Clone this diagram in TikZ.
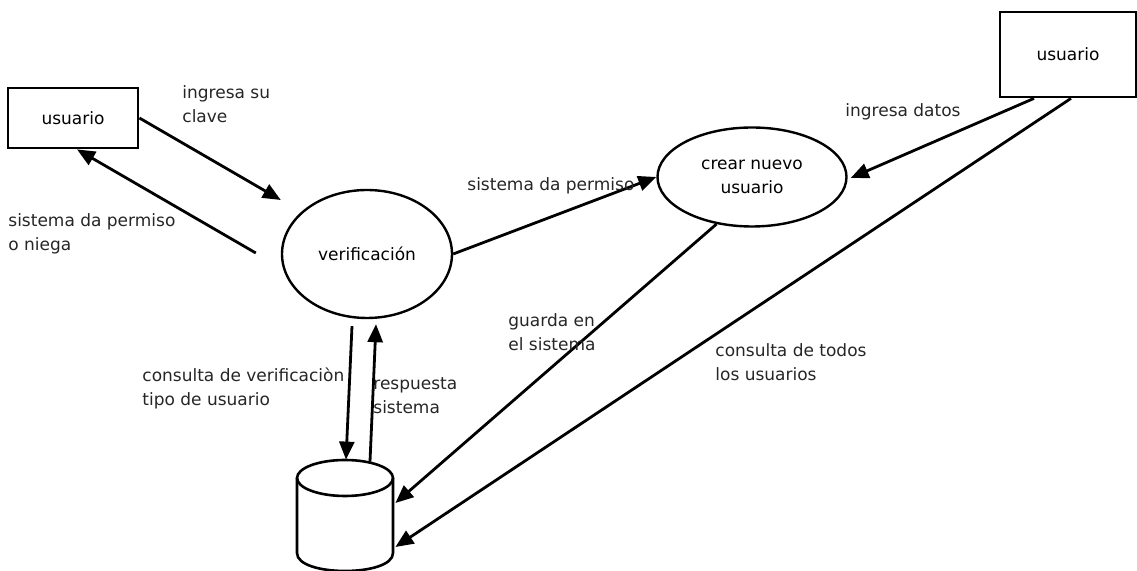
\documentclass[tikz,border=0pt]{standalone}
\usepackage{fontspec}
\setmainfont{DejaVu Sans}
\usetikzlibrary{arrows.meta,calc,shapes.geometric}
\tikzset{
  entity/.style={draw, line width=1.4pt, inner sep=0, minimum width=65pt, minimum height=30pt},
  proc/.style={draw, ellipse, line width=1.2pt, inner sep=0, align=center},
  flow/.style={line width=1.4pt, -{Triangle[length=9pt,width=7.5pt]}},
  lbl/.style={anchor=north west, inner sep=0, align=left, text=black!85}
}
\begin{document}
\begin{tikzpicture}[x=0.5pt, y=-0.5pt, font=\fontsize{8.5}{12}\selectfont]
\useasboundingbox (0,0) rectangle (1137,571);
    \newcommand{\dbRx}{48}
    \newcommand{\dbRy}{18}
% entities and processes
\node[entity] (usr) at (73,118) {usuario};
\node[entity, minimum width=68pt, minimum height=42.5pt] (usrB) at (1068,54.5) {usuario};
\node[proc, minimum width=85pt, minimum height=64pt] (ver) at (367,254) {verificación};
\node[proc, minimum width=94.5pt, minimum height=49.5pt] (crear) at (752,177) {crear nuevo\\usuario};
% data store
\node[inner sep=0, minimum width=48pt, minimum height=56pt] (db) at (345,516) {};
\draw[line width=1.3pt] (345,478) ellipse ({\dbRx} and {\dbRy});
\draw[line width=1.3pt] (297,478) -- (297,553) .. controls (297,577) and (393,577) .. (393,553) -- (393,478);
% flows
\draw[flow] (usr.east) -- ($(ver.west)+(0,-54)$);
\draw[flow] ($(ver.west)+(-25,-1)$) -- ($(usr.south)+(4,0)$);
\draw[flow] (ver.east) -- (crear.west);
\draw[flow] ($(usrB.south)+(-34,0)$) -- ($(crear.east)+(3,1)$);
\draw[flow] (crear.233) -- ($(db.east)+(2,-13)$);
\draw[flow] ($(usrB.south)+(3,0)$) -- ($(db.east)+(2,31)$);
\draw[flow] ($(ver.south)+(-15,7)$) -- ($(db.north)+(1,0)$);
\draw[flow] ($(db.north)+(25,2)$) -- ($(ver.south)+(9,5)$);
% labels
\node[lbl] (lClave) at (182,85) {ingresa su\\clave};
\node[lbl] (lNiega) at (8,213) {sistema da permiso\\o niega};
\node[lbl] (lPermiso) at (467,177) {sistema da permiso};
\node[lbl] (lDatos) at (845,103) {ingresa datos};
\node[lbl] (lGuarda) at (508,313) {guarda en\\el sistema};
\node[lbl] (lTodos) at (715,343) {consulta de todos\\los usuarios};
\node[lbl] (lConsulta) at (142,368) {consulta de verificaciòn\\tipo de usuario};
\node[lbl] (lResp) at (373,377) {respuesta\\sistema};
\end{tikzpicture}
\end{document}
